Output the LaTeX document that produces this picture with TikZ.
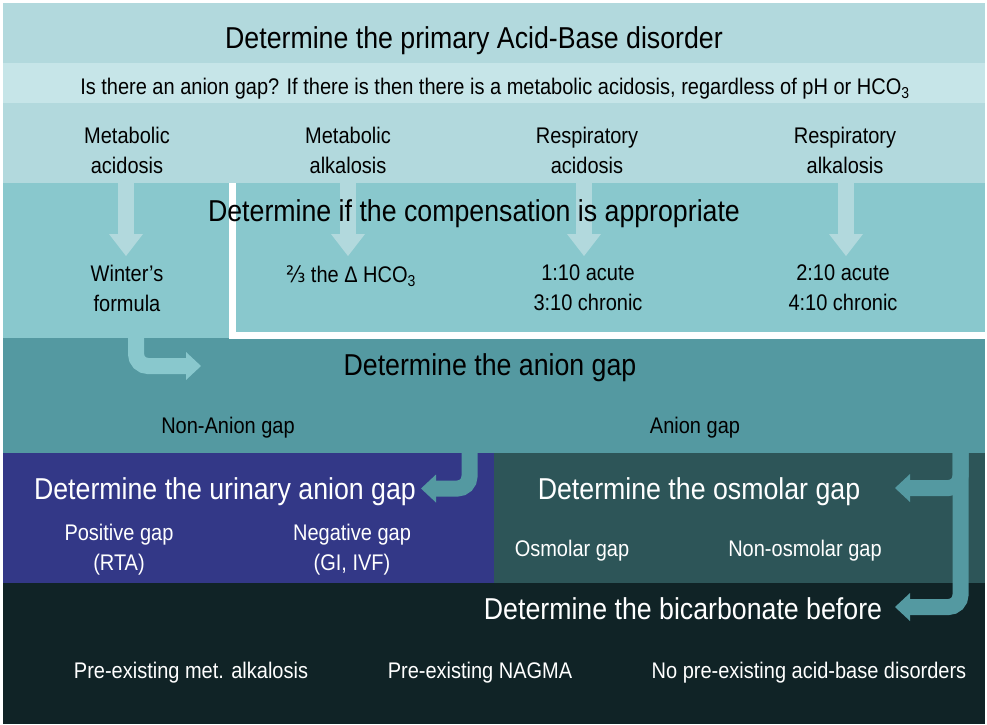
\documentclass[tikz,border=0pt]{standalone}
\usepackage{fontspec}
\setmainfont{Liberation Sans}[FakeStretch=0.885]
\newfontfamily\dejavu{DejaVu Sans}[FakeStretch=0.885]
\definecolor{topc}{HTML}{B2D9DD}
\definecolor{subc}{HTML}{C6E5E8}
\definecolor{btwo}{HTML}{89C8CD}
\definecolor{bthree}{HTML}{5499A1}
\definecolor{indc}{HTML}{333887}
\definecolor{slatec}{HTML}{2D5558}
\definecolor{darkc}{HTML}{102326}
\newcommand\bigfnt{\fontsize{30.2}{34}\selectfont}
\newcommand\smallfnt{\fontsize{22.6}{30}\selectfont}
\tikzset{
  heading/.style={font=\bigfnt, inner sep=0pt, text depth=0pt},
  label/.style={font=\smallfnt, inner sep=0pt, align=center, text depth=0pt},
  shaft/.style={line width=16pt, rounded corners=12pt},
}
\begin{document}
\begin{tikzpicture}[x=1pt,y=-1pt]
\useasboundingbox (0,0) rectangle (987,724);
\fill[white] (0,0) rectangle (987,724);
% bands
\fill[topc] (3,3) rectangle (985,63);
\fill[subc] (3,63) rectangle (985,103);
\fill[topc] (3,103) rectangle (985,183);
\fill[btwo] (3,183) rectangle (985,338);
\fill[bthree] (3,338) rectangle (985,453);
\fill[indc] (3,453) rectangle (494,583);
\fill[slatec] (494,453) rectangle (985,583);
\fill[darkc] (3,583) rectangle (985,724);
% white frame
\coordinate (wf1) at (232.5,183);
\coordinate (wf2) at (232.5,335);
\coordinate (wf3) at (985,335);
\draw[white, line width=7pt] (wf1) -- (wf2) -- (wf3);

% down arrows in band 2
\foreach \n/\x in {a/126, b/348, c/584, d/846}{
  \coordinate (\n top) at (\x,180);
  \coordinate (\n base) at (\x,236);
  \coordinate (\n tip) at (\x,256);
  \draw[topc, line width=16pt] (\n top) -- (\n base);
  \fill[topc] (\n tip) -- ++(-17,-22) -- ++(34,0) -- cycle;
}

% L arrow from Winter's formula
\coordinate (ltop) at (136,336);
\coordinate (lcorner) at (136,366);
\coordinate (lbase) at (188,366);
\coordinate (ltip) at (201,366);
\draw[shaft, btwo] (ltop) -- (lcorner) -- (lbase);
\fill[btwo] (ltip) -- ++(-15,-14) -- ++(0,28) -- cycle;

% urinary arrow
\coordinate (utop) at (469.5,451);
\coordinate (ucorner) at (469.5,488.5);
\coordinate (ubase) at (434,488.5);
\coordinate (utip) at (421,488.5);
\draw[shaft, bthree] (utop) -- (ucorner) -- (ubase);
\fill[bthree] (utip) -- ++(15,-14) -- ++(0,28) -- cycle;

% right arrows
\coordinate (rtop) at (960.5,451);
\coordinate (rcorner) at (960.5,607);
\coordinate (rbase) at (908,607);
\coordinate (rtip) at (895,607);
\coordinate (ocorner) at (960.5,488);
\coordinate (obase) at (908,488);
\coordinate (otip) at (895,488);
\draw[shaft, bthree] (rtop) -- (rcorner) -- (rbase);
\draw[shaft, bthree] (rtop) -- (ocorner) -- (obase);
\fill[bthree] (rtip) -- ++(15,-14) -- ++(0,28) -- cycle;
\fill[bthree] (otip) -- ++(15,-14) -- ++(0,28) -- cycle;

% texts
\node[heading] (t1) at (474,38) {Determine the primary Acid-Base disorder};
\node[label] (t2) at (495,86) {Is there an anion gap? If there is then there is a metabolic acidosis, regardless of pH or HCO\textsubscript{3}};
\node[label] (ma) at (127,150) {Metabolic\\acidosis};
\node[label] (mk) at (348,150) {Metabolic\\alkalosis};
\node[label] (ra) at (587,150) {Respiratory\\acidosis};
\node[label] (rk) at (845,150) {Respiratory\\alkalosis};

\node[heading] (t3) at (474,211) {Determine if the compensation is appropriate};
\node[label] (wf) at (127,288) {Winter’s\\formula};
\node[label] (dh) at (351,274) {{\dejavu ⅔} the Δ HCO\textsubscript{3}};
\node[label] (ac) at (588,288) {1:10 acute\\3:10 chronic};
\node[label] (al) at (843,288) {2:10 acute\\4:10 chronic};

\node[heading] (t4) at (490,365) {Determine the anion gap};
\node[label] (nag) at (228,425) {Non-Anion gap};
\node[label] (ag) at (695,425) {Anion gap};

\node[heading, text=white] (t5) at (225,489) {Determine the urinary anion gap};
\node[label, text=white] (pg) at (119,547) {Positive gap\\(RTA)};
\node[label, text=white] (ng) at (352,547) {Negative gap\\(GI, IVF)};

\node[heading, text=white] (t6) at (699,489) {Determine the osmolar gap};
\node[label, text=white] (og) at (572,548) {Osmolar gap};
\node[label, text=white] (nog) at (805,548) {Non-osmolar gap};

\node[heading, text=white] (t7) at (683,609) {Determine the bicarbonate before};
\node[label, text=white] (p1) at (191,670) {Pre-existing met. alkalosis};
\node[label, text=white] (p2) at (480,670) {Pre-existing NAGMA};
\node[label, text=white] (p3) at (809,670) {No pre-existing acid-base disorders};
\end{tikzpicture}
\end{document}
